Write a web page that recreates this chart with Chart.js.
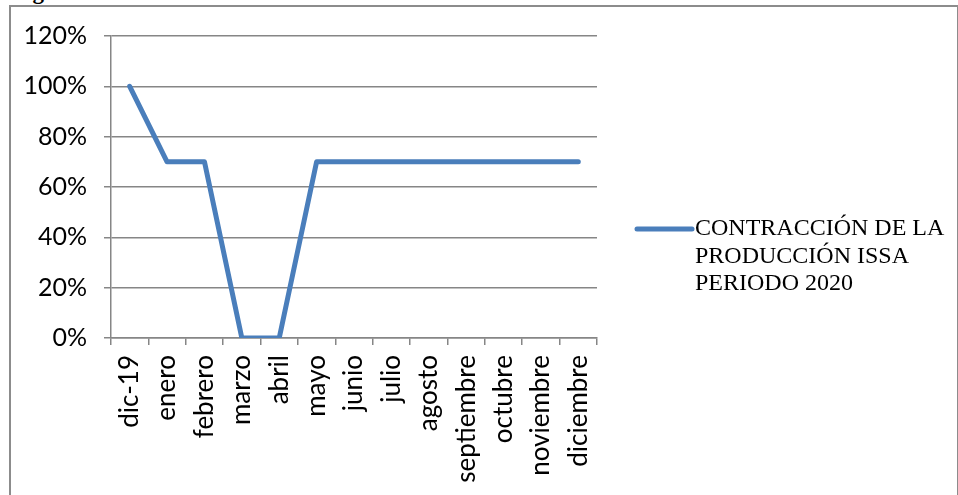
<!DOCTYPE html>
<html>
<head>
<meta charset="utf-8">
<script src="https://cdn.jsdelivr.net/npm/chart.js@4"></script>
<style>
  html, body { margin: 0; padding: 0; background: #fff; overflow: hidden; }
  #wrap { position: relative; width: 958px; height: 495px; }
  #frame { position: absolute; left: 9px; top: 5px; width: 946px; height: 600px; border: 2px solid #8c8c8c; }
  #caption { position: absolute; left: 12px; top: -21px; font: bold 23px "Liberation Serif", serif; white-space: nowrap; }
  canvas { position: absolute; left: 0; top: 0; }
</style>
</head>
<body>
<div id="wrap">
  <div id="caption">Figura 1. Contracción de la Producción ISSA.</div>
  <div id="frame"></div>
  <canvas id="chart" width="958" height="495"></canvas>
</div>
<script>
const months = ['dic-19', 'enero', 'febrero', 'marzo', 'abril', 'mayo', 'junio', 'julio',
                'agosto', 'septiembre', 'octubre', 'noviembre', 'diciembre'];
const contraction = [100, 70, 70, 0, 0, 70, 70, 70, 70, 70, 70, 70, 70];
const seriesName = 'CONTRACCIÓN DE LA PRODUCCIÓN ISSA PERIODO 2020';
const legendLines = ['CONTRACCIÓN DE LA', 'PRODUCCIÓN ISSA', 'PERIODO 2020'];

const gridGray = '#868686';

// legend drawn next to the plot, like the spreadsheet one
const sideLegend = {
  id: 'sideLegend',
  afterDraw(chart) {
    const c = chart.ctx;
    const ds = chart.data.datasets[0];
    const x0 = 637, y0 = 229;
    c.save();
    c.strokeStyle = ds.borderColor;
    c.lineWidth = 5;
    c.lineCap = 'round';
    c.beginPath();
    c.moveTo(x0, y0);
    c.lineTo(x0 + 55, y0);
    c.stroke();
    c.fillStyle = '#000';
    c.font = '24px "Liberation Serif"';
    c.textBaseline = 'middle';
    legendLines.forEach((t, i) => c.fillText(t, x0 + 58, y0 + i * 27.5));
    c.restore();
  }
};

new Chart(document.getElementById('chart'), {
  type: 'line',
  data: {
    labels: months,
    datasets: [{
      label: seriesName,
      data: contraction,
      borderColor: '#4a7ebb',
      borderWidth: 5,
      pointRadius: 0,
      tension: 0,
      borderJoinStyle: 'round',
      borderCapStyle: 'round',
      fill: false
    }]
  },
  options: {
    responsive: false,
    animation: false,
    layout: { padding: { top: 36, right: 361, bottom: 0, left: 0 } },
    plugins: { legend: { display: false }, tooltip: { enabled: false } },
    scales: {
      x: {
        offset: true,
        grid: { offset: true, drawOnChartArea: false, drawTicks: true, tickLength: 7, color: gridGray, lineWidth: 1.5 },
        border: { color: gridGray, width: 1.5 },
        ticks: { color: '#000', font: { family: 'Lato', size: 26 }, minRotation: 90, maxRotation: 90, padding: 10, autoSkip: false },
        afterFit(scale) { scale.height = 495 - 338; }
      },
      y: {
        min: 0,
        max: 120,
        grid: { color: gridGray, lineWidth: 1.5, tickLength: 7 },
        border: { color: gridGray, width: 1.5 },
        ticks: { stepSize: 20, color: '#000', font: { family: 'Lato', size: 25 }, padding: 17, callback: v => v + '%' },
        afterFit(scale) { scale.width = 111; }
      }
    }
  },
  plugins: [sideLegend]
});
</script>
</body>
</html>
